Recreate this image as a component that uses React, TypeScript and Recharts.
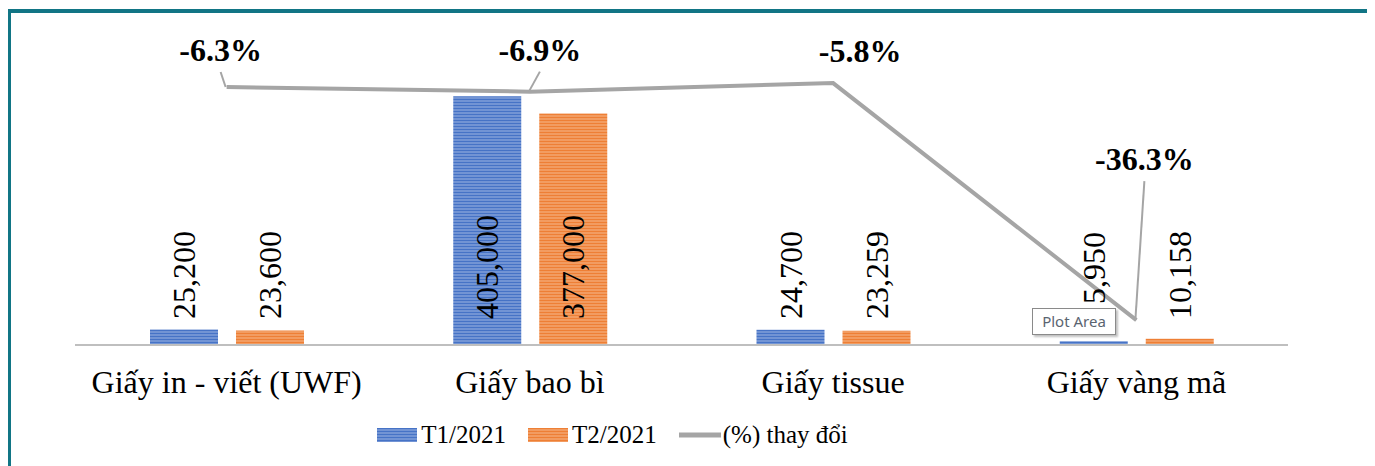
import React from "react";
import { ComposedChart, Bar, Line, XAxis, YAxis, LabelList } from "recharts";

const categories = ["Giấy in - viết (UWF)", "Giấy bao bì", "Giấy tissue", "Giấy vàng mã"];
const t1Values = [25200, 405000, 24700, 5950];
const t2Values = [23600, 377000, 23259, 10158];
const pctChange = [-6.3, -6.9, -5.8, -36.3];
const seriesNames = ["T1/2021", "T2/2021", "(%) thay đổi"];

// label placement offsets (style only)
const pctLabelOffsets = [
  { dx: -6, dy: -26, leader: true },
  { dx: 10, dy: -31, leader: true },
  { dx: 27, dy: -21, leader: false },
  { dx: 8, dy: -150, leader: true },
];
const t1LabelBase = [319, 319, 319, 304];
const t2LabelBase = [319, 319, 319, 319];

const data = categories.map((c, i) => ({
  name: c,
  t1: t1Values[i],
  t2: t2Values[i],
  pct: pctChange[i],
}));

const FONT = "'Liberation Serif', 'Times New Roman', serif";

const fmt = (v: number) => v.toLocaleString("en-US");

const makeBarLabel = (bases: number[]) => (props: any) => {
  const { x, width, value, index } = props;
  const cx = x + width / 2;
  return (
    <text
      transform={`translate(${cx}, ${bases[index]}) rotate(-90)`}
      x={0}
      y={0}
      textAnchor="start"
      dominantBaseline="central"
      fontFamily={FONT}
      fontSize={32}
      fill="#000"
    >
      {fmt(value)}
    </text>
  );
};
const T1Label = makeBarLabel(t1LabelBase);
const T2Label = makeBarLabel(t2LabelBase);

const PctLabel = (props: any) => {
  const { x, y, value, index } = props;
  const o = pctLabelOffsets[index];
  const lx = x + o.dx;
  const ly = y + o.dy;
  return (
    <g>
      {o.leader && (
        <line x1={x - 1} y1={y} x2={lx} y2={ly + 11} stroke="#A5A5A5" strokeWidth={2} />
      )}
      <text
        x={lx}
        y={ly}
        textAnchor="middle"
        fontFamily={FONT}
        fontSize={32}
        fontWeight="bold"
        fill="#000"
      >
        {`${value.toFixed(1)}%`}
      </text>
    </g>
  );
};

const CategoryTick = (props: any) => {
  const { x, y, payload } = props;
  return (
    <text
      x={x}
      y={y + 40}
      textAnchor="middle"
      fontFamily={FONT}
      fontSize={32}
      fill="#000"
    >
      {payload.value}
    </text>
  );
};

const LegendBlock = () => (
  <div
    style={{
      position: "absolute",
      left: 0,
      top: 421,
      width: 1225,
      display: "flex",
      justifyContent: "center",
      alignItems: "center",
      fontFamily: FONT,
      fontSize: 25,
      color: "#000",
    }}
  >
    <svg width={40} height={14} style={{ marginRight: 4 }}>
      <rect x={0} y={0} width={40} height={14} fill="url(#bluePat)" />
    </svg>
    <span style={{ marginRight: 22 }}>{seriesNames[0]}</span>
    <svg width={40} height={14} style={{ marginRight: 4 }}>
      <rect x={0} y={0} width={40} height={14} fill="url(#orangePat)" />
    </svg>
    <span style={{ marginRight: 22 }}>{seriesNames[1]}</span>
    <svg width={42} height={14} style={{ marginRight: 2 }}>
      <line x1={0} y1={7} x2={42} y2={7} stroke="#A5A5A5" strokeWidth={5} strokeLinecap="round" />
    </svg>
    <span>{seriesNames[2]}</span>
  </div>
);

export default function App() {
  return (
    <div style={{ position: "relative", width: 1375, height: 466, marginLeft: -8, marginTop: -8, background: "#fff", overflow: "hidden" }}>
      <div
        style={{
          position: "absolute",
          left: 7,
          top: 9,
          width: 1365,
          height: 480,
          border: "4px solid #117585",
          boxSizing: "border-box",
        }}
      />
      <div style={{ position: "absolute", left: 0, top: 0 }}>
        <ComposedChart
          width={1375}
          height={466}
          data={data}
          margin={{ top: 38, right: 87, left: 75, bottom: 71 }}
          barCategoryGap="24.5%"
          barGap={18}
        >
          <defs>
            <pattern id="bluePat" width={8} height={3} patternUnits="userSpaceOnUse">
              <rect x={0} y={0} width={8} height={3} fill="#4673C6" />
              <rect x={0} y={1.5} width={8} height={1} fill="#9DB5E2" />
            </pattern>
            <pattern id="orangePat" width={8} height={3} patternUnits="userSpaceOnUse">
              <rect x={0} y={0} width={8} height={3} fill="#EE7F35" />
              <rect x={0} y={1.5} width={8} height={1} fill="#F6B88C" />
            </pattern>
          </defs>
          <XAxis
            dataKey="name"
            tick={<CategoryTick />}
            tickLine={false}
            axisLine={{ stroke: "#BFBFBF", strokeWidth: 2 }}
            interval={0}
            height={50}
          />
          <YAxis yAxisId="left" domain={[0, 500000]} hide />
          <YAxis yAxisId="right" orientation="right" domain={[-39.5, 0]} hide />
          <Bar yAxisId="left" dataKey="t1" name={seriesNames[0]} fill="url(#bluePat)" barSize={68} isAnimationActive={false}>
            <LabelList dataKey="t1" content={<T1Label />} />
          </Bar>
          <Bar yAxisId="left" dataKey="t2" name={seriesNames[1]} fill="url(#orangePat)" barSize={68} isAnimationActive={false}>
            <LabelList dataKey="t2" content={<T2Label />} />
          </Bar>
          <Line
            yAxisId="right"
            dataKey="pct"
            name={seriesNames[2]}
            stroke="#A5A5A5"
            strokeWidth={4}
            dot={false}
            activeDot={false}
            isAnimationActive={false}
          >
            <LabelList dataKey="pct" content={<PctLabel />} />
          </Line>
        </ComposedChart>
      </div>
      <LegendBlock />
      <div
        style={{
          position: "absolute",
          left: 1032,
          top: 308,
          width: 84,
          height: 27,
          background: "#fff",
          border: "1px solid #8a8a8a",
          boxShadow: "2px 2px 2px rgba(0,0,0,0.25)",
          fontFamily: "'Noto Sans', 'Open Sans', sans-serif",
          fontSize: 15,
          color: "#5a6470",
          lineHeight: "25px",
          textAlign: "center",
          boxSizing: "border-box",
        }}
      >
        Plot Area
      </div>
    </div>
  );
}
